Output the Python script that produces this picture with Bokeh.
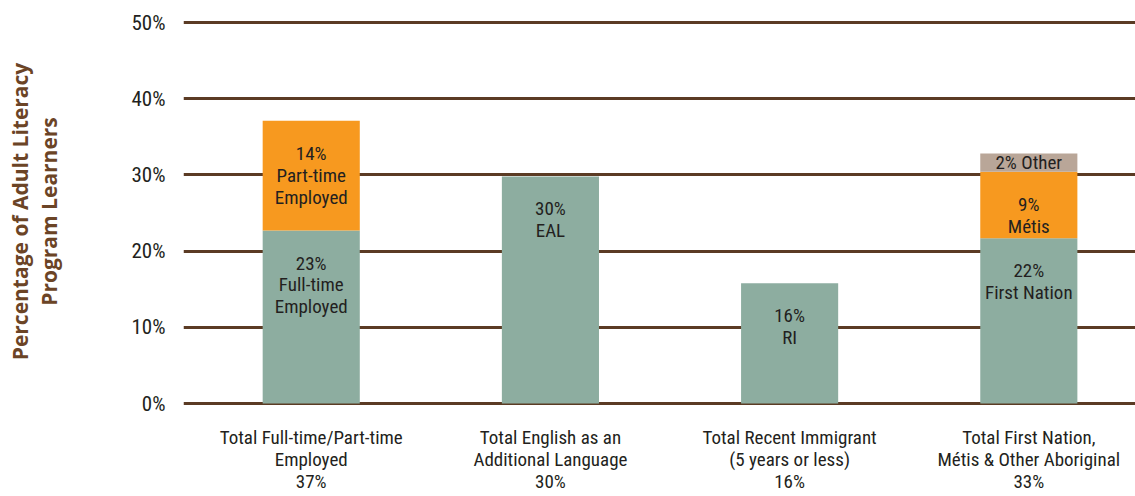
import numpy as np
from bokeh.plotting import figure
from bokeh.models import ColumnDataSource, FixedTicker, Range1d, PrintfTickFormatter
from bokeh.core.properties import value
from bokeh.embed import file_html
from bokeh.resources import INLINE

categories = ["Total Full-time/Part-time\nEmployed\n37%",
              "Total English as an\nAdditional Language\n30%",
              "Total Recent Immigrant\n(5 years or less)\n16%",
              "Total First Nation,\nMétis & Other Aboriginal\n33%"]
base_values = [22.7, 29.8, 15.8, 21.7]
middle_values = [14.4, 0.0, 0.0, 8.7]
top_values = [0.0, 0.0, 0.0, 2.4]
base_labels = ["23%\nFull-time\nEmployed", "30%\nEAL", "16%\nRI", "22%\nFirst Nation"]
middle_labels = ["14%\nPart-time\nEmployed", "", "", "9%\nMétis"]
top_labels = ["", "", "", "2% Other"]
y_ticks = [0, 10, 20, 30, 40, 50]

GRID = "#5b3b24"
TEXT = "#231f20"
FONT = "'Roboto Condensed', 'DejaVu Sans Condensed', 'Liberation Sans Narrow', Roboto"

xs = np.arange(len(categories))
base = np.array(base_values)
mid = np.array(middle_values)
top = np.array(top_values)

src = ColumnDataSource(dict(x=xs, base=base, middle=mid, top=top))

p = figure(width=1135, height=496, output_backend="svg", toolbar_location=None,
           x_range=Range1d(-0.534, 3.446), y_range=Range1d(-0.52, 50.92),
           min_border_left=183, min_border_right=0, min_border_top=15, min_border_bottom=89)
p.outline_line_color = None
p.background_fill_color = "white"
p.border_fill_color = "white"

p.vbar_stack(["base", "middle", "top"], x="x", width=0.406, source=src,
             color=["#8dada0", "#f7991f", "#b9a698"], line_color=None)

lab_base = ColumnDataSource(dict(x=xs, y=base, t=base_labels))
lab_mid = ColumnDataSource(dict(x=xs, y=base + mid, t=middle_labels))
lab_top = ColumnDataSource(dict(x=xs, y=base + mid + top / 2, t=top_labels))
for s in (lab_base, lab_mid):
    p.text(x="x", y="y", text="t", source=s, text_align="center", text_baseline="top",
           y_offset=21, text_font=value(FONT), text_font_size="19px",
           text_color=TEXT, text_line_height=0.95)
p.text(x="x", y="y", text="t", source=lab_top, text_align="center", text_baseline="middle",
       text_font=value(FONT), text_font_size="19px", text_color=TEXT)

p.xgrid.grid_line_color = None
p.ygrid.ticker = FixedTicker(ticks=y_ticks)
p.ygrid.grid_line_color = GRID
p.ygrid.grid_line_width = 3

p.yaxis.ticker = FixedTicker(ticks=y_ticks)
p.yaxis.formatter = PrintfTickFormatter(format="%d%%")
p.yaxis.axis_line_color = None
p.yaxis.major_tick_line_color = None
p.yaxis.minor_tick_line_color = None
p.yaxis.major_label_standoff = 12
p.yaxis.major_label_text_font = FONT
p.yaxis.major_label_text_font_size = "21px"
p.yaxis.major_label_text_color = TEXT
p.yaxis.axis_label = "Percentage of Adult Literacy\nProgram Learners"
p.yaxis.axis_label_text_font = "Open Sans"
p.yaxis.axis_label_text_font_style = "bold"
p.yaxis.axis_label_text_font_size = "21px"
p.yaxis.axis_label_text_line_height = 1.05
p.yaxis.axis_label_text_color = "#6b4426"
p.yaxis.axis_label_standoff = 65

p.xaxis.ticker = FixedTicker(ticks=list(xs))
p.xaxis.major_label_overrides = {int(i): c for i, c in zip(xs, categories)}
p.xaxis.axis_line_color = None
p.xaxis.major_tick_line_color = None
p.xaxis.minor_tick_line_color = None
p.xaxis.major_label_standoff = 12
p.xaxis.major_label_text_font = FONT
p.xaxis.major_label_text_font_size = "19px"
p.xaxis.major_label_text_color = TEXT
p.xaxis.major_label_text_line_height = 0.96

open("out.html", "w").write(file_html(p, INLINE))
